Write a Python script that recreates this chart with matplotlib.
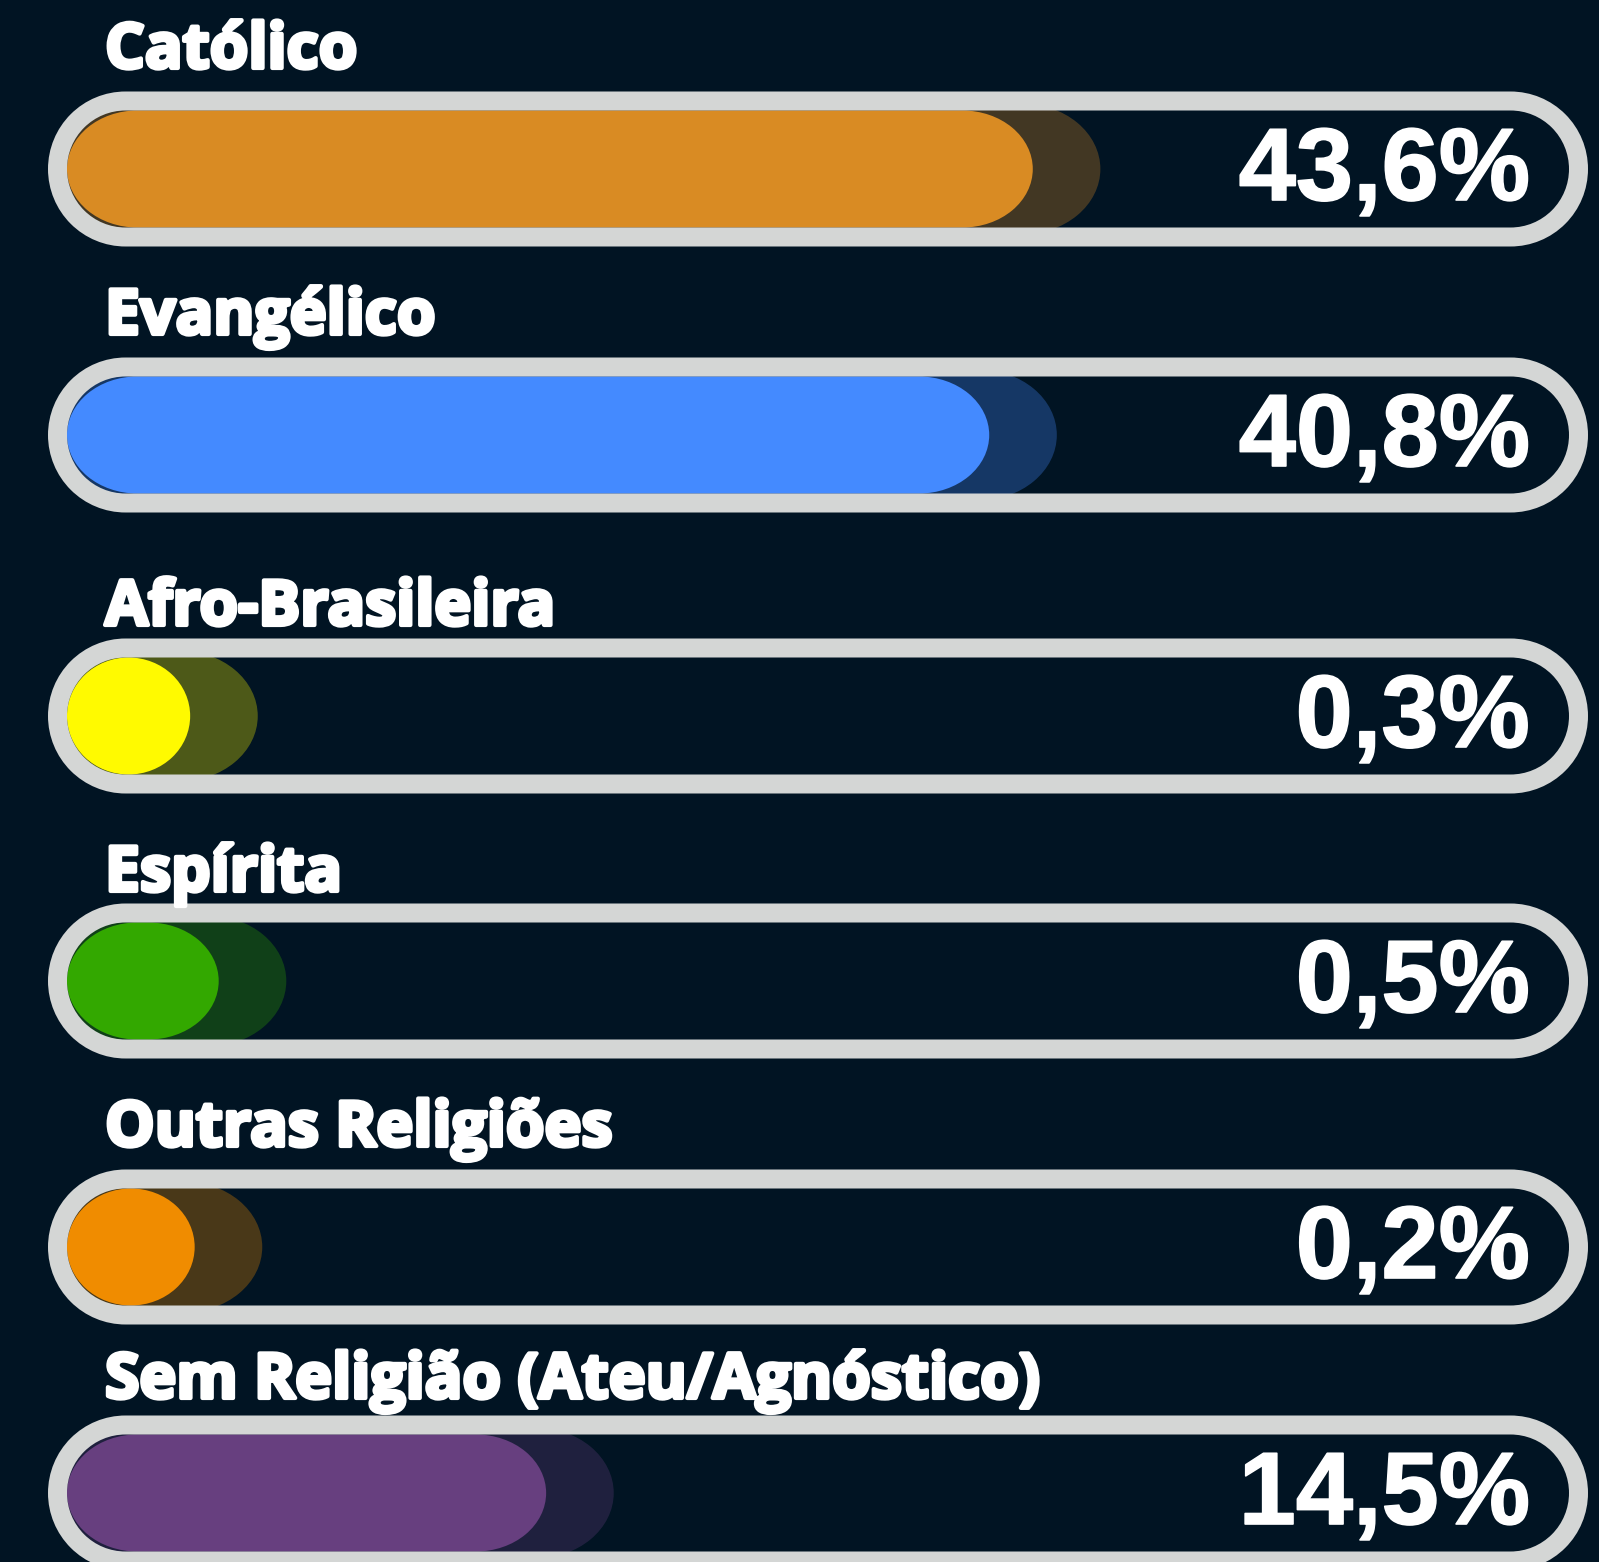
import numpy as np
import matplotlib.pyplot as plt
from matplotlib.path import Path
from matplotlib.patches import PathPatch
import matplotlib.patheffects as pe

# categories / values shown on the chart
labels = ['Católico', 'Evangélico', 'Afro-Brasileira', 'Espírita',
          'Outras Religiões', 'Sem Religião (Ateu/Agnóstico)']
values = [43.6, 40.8, 0.3, 0.5, 0.2, 14.5]
# how far each bar is filled along its track (% of track)
bar_fill = [64.3, 61.4, 8.2, 10.1, 8.5, 31.9]
colors = ['#d98b23', '#448aff', '#fffa00', '#33a800', '#f08c00', '#673f7f']

BG = '#011423'
RING = '#d4d6d5'
W, H = 1599, 1562
DPI = 100

# layout in pixels (top-down)
track_cy = [169, 435, 716, 981, 1247, 1493]
label_base = [68, 334, 625, 891, 1146, 1398]
inner_l, inner_r = 67, 1569
inner_h = 117
ring_w = 19

ux = (inner_r - inner_l) / 100.0   # pixels per x unit


def pill_verts(x0, x1, yc, hh, rx):
    rx = min(rx, (x1 - x0) / 2)
    right = Path.arc(-90, 90)
    left = Path.arc(90, 270)
    v1 = right.vertices * [rx, hh] + [x1 - rx, yc]
    v2 = left.vertices * [rx, hh] + [x0 + rx, yc]
    verts = np.vstack([v1, v2])
    codes = list(right.codes) + [Path.LINETO] + list(left.codes[1:])
    return verts, codes


def pill(x0, x1, yc, hh, rx, **kw):
    v, c = pill_verts(x0, x1, yc, hh, rx)
    v = np.vstack([v, v[:1]])
    c = c + [Path.CLOSEPOLY]
    return PathPatch(Path(v, c), clip_on=False, **kw)


def ring(x0, x1, yc, hh_out, rx_out, bx, hh_in, rx_in, **kw):
    vo, co = pill_verts(x0, x1, yc, hh_out, rx_out)
    vi, ci = pill_verts(x0 + bx, x1 - bx, yc, hh_in, rx_in)
    vi = vi[::-1]
    ci = [Path.MOVETO] + ci[1:][::-1]
    v = np.vstack([vo, vo[:1], vi, vi[:1]])
    c = co + [Path.CLOSEPOLY] + ci + [Path.CLOSEPOLY]
    return PathPatch(Path(v, c), clip_on=False, **kw)


fig = plt.figure(figsize=(W / DPI, H / DPI), dpi=DPI, facecolor=BG)

for i, lab in enumerate(labels):
    cy = track_cy[i]
    ax = fig.add_axes([inner_l / W, 1 - (cy + inner_h / 2) / H,
                       (inner_r - inner_l) / W, inner_h / H])
    ax.set_xlim(0, 100)
    ax.set_ylim(0, 1)
    ax.axis('off')
    ax.set_facecolor('none')

    r = (inner_h / 2) / ux   # half height expressed in x units
    # soft glow behind the bar
    ax.add_patch(pill(-1.2, bar_fill[i] + 4.5, 0.5, 0.56, r * 1.35,
                      fc=colors[i], alpha=0.3, ec='none', zorder=1))
    ax.add_patch(pill(0, bar_fill[i], 0.5, 0.5, r * 1.2,
                      fc=colors[i], ec='none', zorder=2))

    # outer ring of the track
    bu = ring_w / ux
    ax.add_patch(ring(-bu, 100 + bu, 0.5, 0.5 + ring_w / inner_h,
                      (inner_h / 2 + ring_w) / ux, bu, 0.5, r,
                      fc=RING, ec='none', zorder=3))

    ax.text(97.4, 0.5 - 31 / inner_h, f'{values[i]:.1f}%'.replace('.', ','),
            ha='right', va='baseline', color='white', fontsize=74,
            fontfamily='Liberation Sans', fontweight='bold', zorder=4,
            path_effects=[pe.withStroke(linewidth=1.2, foreground='white')])

    fig.text(105 / W, 1 - label_base[i] / H, lab, ha='left', va='baseline',
             color='white', fontsize=45, fontfamily='Open Sans', fontweight='bold',
             path_effects=[pe.withStroke(linewidth=3, foreground='white')])

fig.savefig('out.png', dpi=DPI, facecolor=BG)
